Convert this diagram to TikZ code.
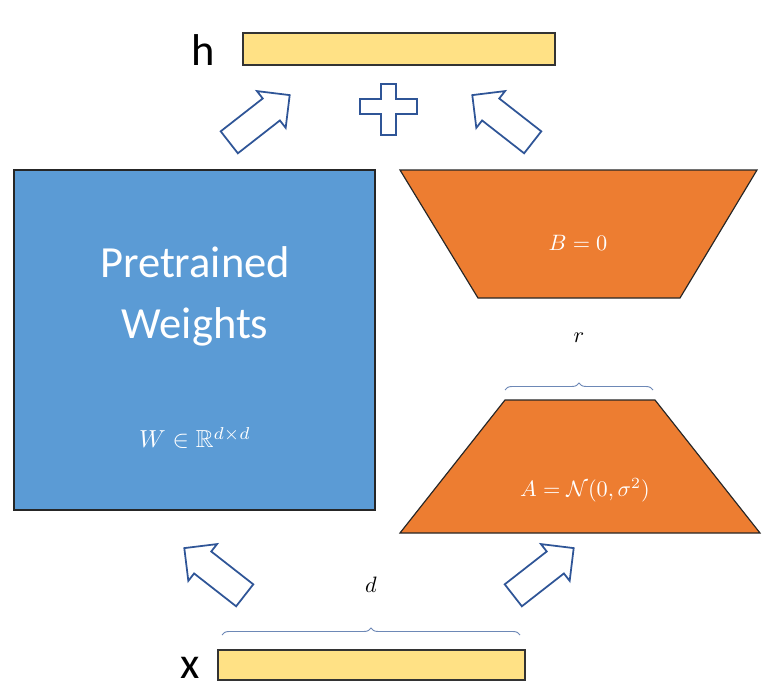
\documentclass[tikz,border=0pt]{standalone}
\usepackage{fontspec}
\usepackage{amssymb}
\setmainfont{Carlito}
\usetikzlibrary{shapes.arrows,decorations.pathreplacing}
\definecolor{bl}{HTML}{5B9BD5}
\definecolor{og}{HTML}{ED7D31}
\definecolor{yl}{HTML}{FFD966}
\definecolor{ln}{HTML}{2F5597}
\tikzset{
 bar/.style={fill=yl!80!white,draw=black!80,line width=1pt},
 blk/.style={single arrow,draw=ln,fill=white,line width=1.5pt,minimum height=2.3cm,minimum width=1.4cm,single arrow head extend=0.22cm,inner xsep=0pt,inner ysep=0.3cm},
 br/.style={draw=ln!70,line width=0.8pt,decorate,decoration={brace,amplitude=6pt}},
 big/.style={font=\fontsize{38}{46}\selectfont}
}
\newcommand{\bm}[1]{\scalebox{2.1}{$#1$}}
\newcommand{\mm}[1]{\scalebox{1.9}{$#1$}}
\begin{document}
\begin{tikzpicture}[x=0.03cm,y=-0.03cm]
\useasboundingbox (0,0) rectangle (772,699);
% top
\node[big,anchor=center] (h) at (203,50) {h};
\draw[bar] (243,33) rectangle (555,65);
\node[blk,rotate=38] (a1) at (254,123) {};
\node[blk,rotate=142] (a2) at (508,123) {};
\draw[ln,line width=1.5pt,fill=white] (381,84) -- (396,84) -- (396,99) -- (417,99) -- (417,114) -- (396,114) -- (396,135) -- (381,135) -- (381,114) -- (360,114) -- (360,99) -- (381,99) -- cycle;
% blue
\draw[fill=bl,draw=black!85,line width=1pt] (14,170) rectangle (375,510);
\node[big,text=white,align=center] (pw) at (195,296) {Pretrained\\[6pt]Weights};
\node[text=white] (w) at (195,438) {\bm{W\in\mathbb{R}^{d\times d}}};
% B
\draw[fill=og,draw=black!85,line width=1pt] (400,170) -- (757,170) -- (680,298) -- (478,298) -- cycle;
\node[text=white] (b) at (578,243) {\mm{B=0}};
\draw[br] (505,390) -- (653,390);
\node (r) at (579,338) {\mm{r}};
% A
\draw[fill=og,draw=black!85,line width=1pt] (505,400) -- (655,400) -- (760,533) -- (400,533) -- cycle;
\node[text=white] (a) at (585,490) {\mm{A=\mathcal{N}(0,\sigma^2)}};
% bottom
\node[blk,rotate=142] (a3) at (220,576) {};
\node[blk,rotate=38] (a4) at (538,576) {};
\draw[br] (222,635) -- (520,635);
\node (d) at (371,585) {\mm{d}};
\node[big] (x) at (190,668) {x};
\draw[bar] (218,650) rectangle (525,680);
\end{tikzpicture}
\end{document}
